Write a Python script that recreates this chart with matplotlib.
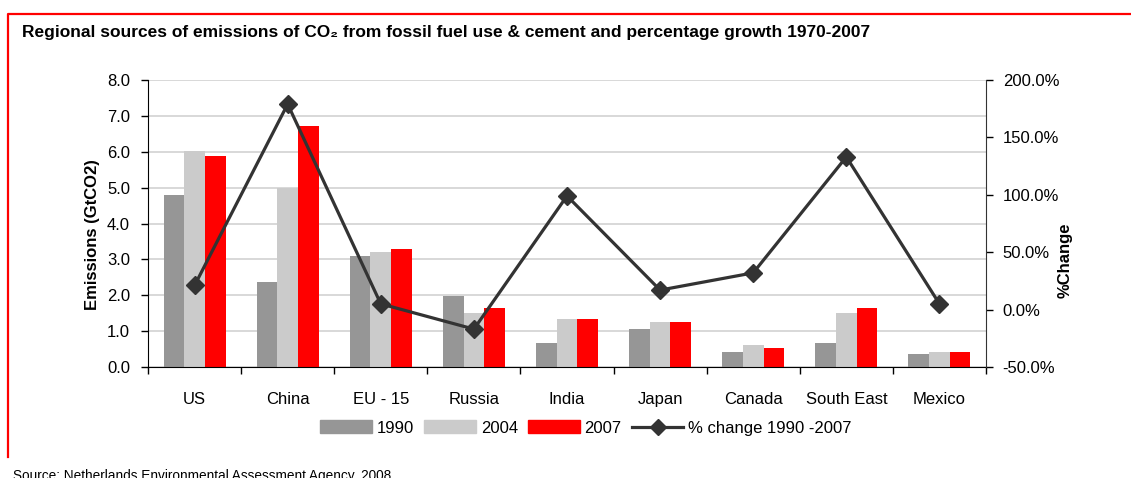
import matplotlib
matplotlib.use("Agg")
import matplotlib.pyplot as plt
import numpy as np
from matplotlib import patches
from matplotlib.lines import Line2D
from matplotlib.ticker import FixedLocator, FuncFormatter

plt.rcParams['font.family'] = ['Liberation Sans', 'DejaVu Sans']

# data
regions = ["US", "China", "EU - 15", "Russia", "India", "Japan", "Canada", "South East", "Mexico"]
e1990 = [4.80, 2.37, 3.10, 1.98, 0.67, 1.05, 0.41, 0.67, 0.35]
e2004 = [6.03, 5.00, 3.21, 1.50, 1.33, 1.25, 0.61, 1.50, 0.41]
e2007 = [5.89, 6.73, 3.30, 1.64, 1.33, 1.25, 0.52, 1.64, 0.41]
pct_change = [21, 179, 5, -17, 99, 17, 32, 133, 5]

C1990 = "#969696"
C2004 = "#cbcbcb"
C2007 = "#ff0000"
CLINE = "#333333"

W, H = 1131, 478
fig = plt.figure(figsize=(W / 100, H / 100), dpi=100)
ax = fig.add_axes([148 / W, 1 - 367 / H, (986 - 148) / W, (367 - 80) / H])

x = np.arange(len(regions))
bw = 0.222
ax.bar(x - bw, e1990, bw, color=C1990, zorder=2)
ax.bar(x, e2004, bw, color=C2004, zorder=2)
ax.bar(x + bw, e2007, bw, color=C2007, zorder=2)

ax.set_xlim(-0.5, len(regions) - 0.5)
ax.set_ylim(0, 8)
ax.set_yticks(np.arange(0, 8.01, 1.0))
ax.yaxis.set_major_formatter(FuncFormatter(lambda v, p: f"{v:.1f}"))
ax.yaxis.grid(True, color="#d2d2d2", lw=1.2)
ax.set_axisbelow(True)

# category boundaries get tick marks, names sit in between
ax.xaxis.set_major_locator(FixedLocator(np.arange(-0.5, len(regions), 1.0)))
ax.xaxis.set_minor_locator(FixedLocator(x))
ax.set_xticklabels([""] * (len(regions) + 1))
ax.set_xticklabels(regions, minor=True)
ax.tick_params(axis="x", which="major", direction="out", length=5, width=1)
ax.tick_params(axis="x", which="minor", length=0, pad=18, labelsize=12)
ax.tick_params(axis="y", direction="out", length=5, width=1, pad=8, labelsize=12)

for s in ["top", "right"]:
    ax.spines[s].set_visible(False)
ax.spines["left"].set_color("black")
ax.spines["bottom"].set_color("black")

ax2 = ax.twinx()
ax2.plot(x, pct_change, color=CLINE, lw=2.3, marker="D", ms=9.5, zorder=3)
ax2.set_ylim(-50, 200)
ax2.set_yticks(np.arange(-50, 201, 50))
ax2.yaxis.set_major_formatter(FuncFormatter(lambda v, p: f"{v:.1f}%"))
ax2.tick_params(axis="y", direction="out", length=5, width=1, pad=7, labelsize=12)
for s in ["top", "left", "bottom"]:
    ax2.spines[s].set_visible(False)
ax2.spines["right"].set_color("#333333")

# axis titles, title and source
fig.text(92 / W, 1 - 235 / H, "Emissions (GtCO2)", rotation=90, ha="center", va="center",
         fontsize=12, fontweight="bold")
fig.text(1065 / W, 1 - 260 / H, "%Change", rotation=90, ha="center", va="center",
         fontsize=12, fontweight="bold")
fig.text(22 / W, 1 - 33 / H, "Regional sources of emissions of CO\u2082 from fossil fuel use & cement and percentage growth 1970-2007",
         ha="left", va="center", fontsize=12.5, fontweight="bold")
fig.text(13 / W, 1 - 469 / H, "Source: Netherlands Environmental Assessment Agency, 2008",
         ha="left", va="top", fontsize=9.8)

handles = [
    patches.Patch(color=C1990),
    patches.Patch(color=C2004),
    patches.Patch(color=C2007),
    Line2D([], [], color=CLINE, lw=2.3, marker="D", ms=8),
]
fig.legend(handles, ["1990", "2004", "2007", "% change 1990 -2007"], ncol=4,
           loc="center", bbox_to_anchor=(586 / W, 1 - 428 / H), frameon=False,
           fontsize=12, handlelength=3.1, handleheight=0.8, handletextpad=0.3,
           columnspacing=0.6)

# red frame: top edge runs off the right side, left edge stops above the source line
fig.add_artist(Line2D([8 / W, 8 / W, 1.01], [1 - 457 / H, 1 - 14 / H, 1 - 14 / H],
                      transform=fig.transFigure, color="red", lw=1.6))

fig.savefig("out.png", dpi=100)
